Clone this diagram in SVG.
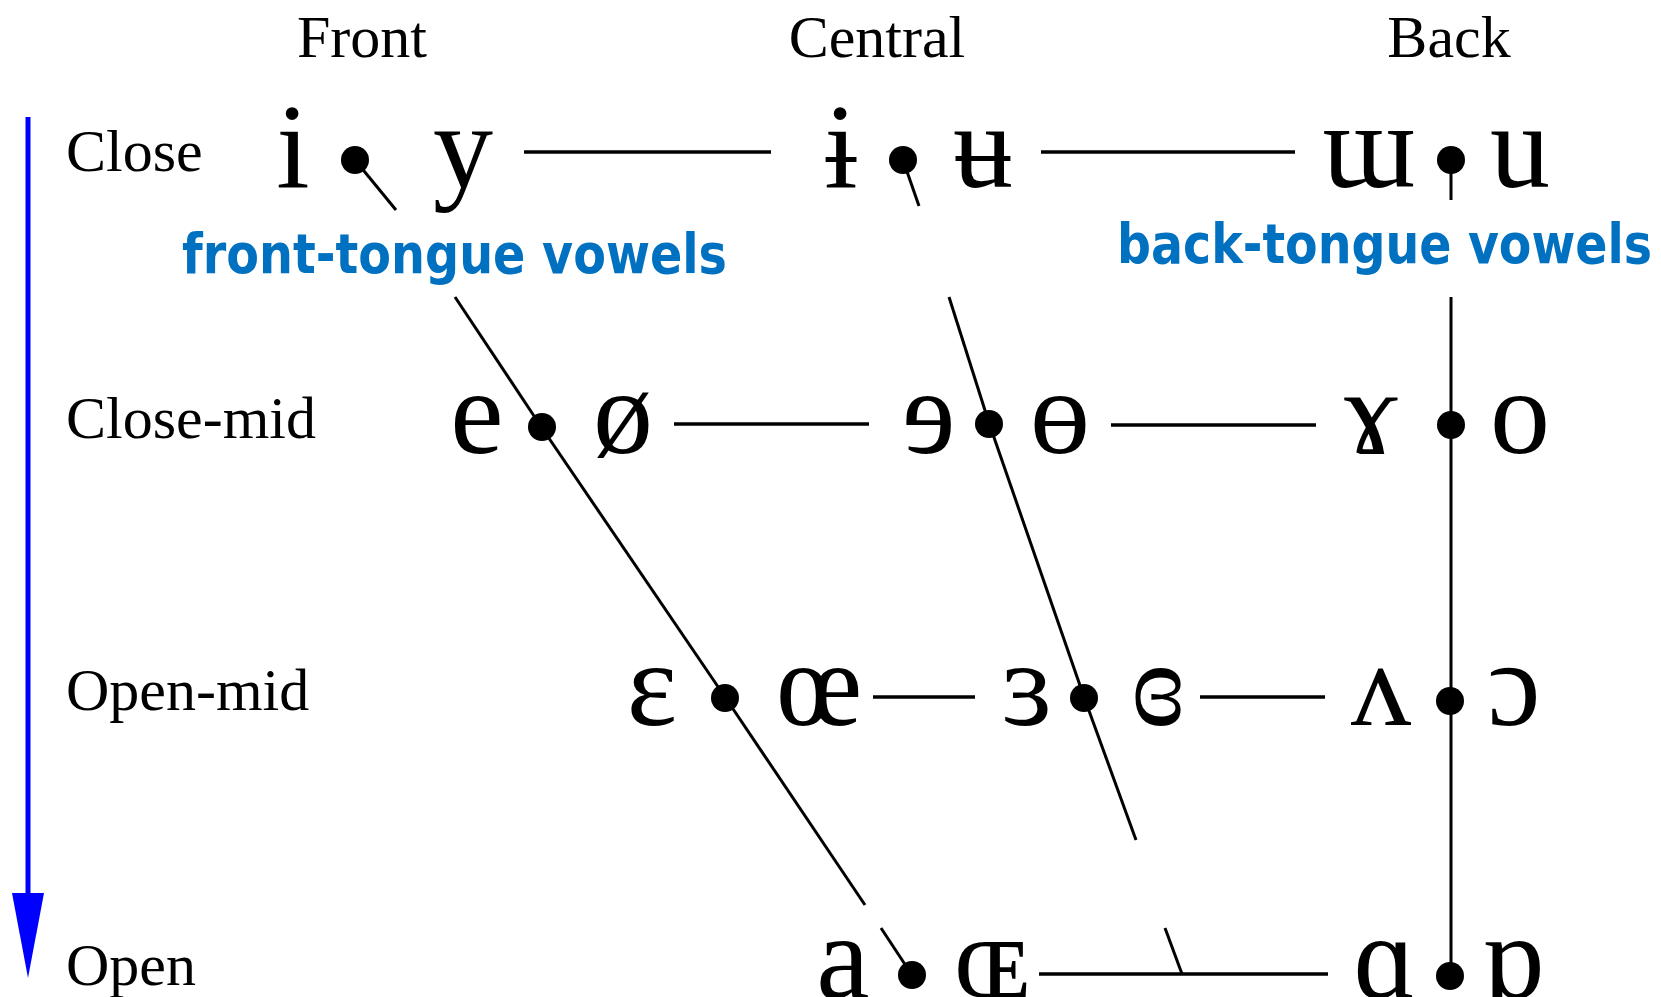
<svg xmlns="http://www.w3.org/2000/svg" width="1661" height="997" viewBox="0 0 1661 997">
<style>
.hdr{font-family:"Liberation Serif","Times New Roman",serif;font-size:60px;fill:#000}
.ipa{font-family:"Liberation Serif","DejaVu Serif",serif;font-size:120px;fill:#000;text-anchor:middle}
.blue{font-family:Tahoma,"DejaVu Sans",sans-serif;font-weight:bold;font-size:56px;fill:#0070C0}
.ln{stroke:#000;stroke-width:3;fill:none;stroke-linecap:butt}
.hl{stroke:#000;stroke-width:3.5;fill:none;stroke-linecap:butt}
.dot{fill:#000}
</style>
<rect width="1661" height="997" fill="#fff"/>
<g id="axis-labels">
<text class="hdr" x="362" y="57" text-anchor="middle">Front</text>
<text class="hdr" x="877" y="57" text-anchor="middle">Central</text>
<text class="hdr" x="1449" y="57" text-anchor="middle">Back</text>
<text class="hdr" x="66" y="171">Close</text>
<text class="hdr" x="66" y="438">Close-mid</text>
<text class="hdr" x="66" y="710">Open-mid</text>
<text class="hdr" x="66" y="985">Open</text>
</g>
<g id="openness-arrow">
<line x1="28" y1="117" x2="28" y2="896" stroke="#0000FF" stroke-width="5"/>
<polygon points="12,893 44,893 28,978" fill="#0000FF"/>
</g>
<g id="connectors">
<line class="hl" x1="524" y1="152" x2="771" y2="152"/>
<line class="hl" x1="1041" y1="152" x2="1295" y2="152"/>
<line class="hl" x1="674" y1="424" x2="869" y2="424"/>
<line class="hl" x1="1111" y1="425" x2="1316" y2="425"/>
<line class="hl" x1="873" y1="697" x2="975" y2="697"/>
<line class="hl" x1="1200" y1="697" x2="1325" y2="697"/>
<line class="hl" x1="1039" y1="974" x2="1328" y2="974"/>
<line class="ln" x1="355" y1="160" x2="396" y2="210"/>
<line class="ln" x1="455" y1="297" x2="542" y2="428"/>
<line class="ln" x1="542" y1="428" x2="725" y2="697"/>
<line class="ln" x1="725" y1="697" x2="865" y2="905"/>
<line class="ln" x1="881" y1="928" x2="912" y2="975"/>
<line class="ln" x1="903" y1="160" x2="919" y2="206"/>
<line class="ln" x1="949" y1="297" x2="989" y2="423"/>
<line class="ln" x1="989" y1="423" x2="1084" y2="697"/>
<line class="ln" x1="1084" y1="697" x2="1136" y2="840"/>
<line class="ln" x1="1165" y1="928" x2="1182" y2="974"/>
<line class="ln" x1="1451" y1="160" x2="1451" y2="200"/>
<line class="ln" x1="1451" y1="297" x2="1451" y2="976"/>
</g>
<g id="dots">
<circle class="dot" cx="355" cy="160" r="14"/>
<circle class="dot" cx="903" cy="160" r="14"/>
<circle class="dot" cx="1451" cy="160" r="14"/>
<circle class="dot" cx="542" cy="427" r="14"/>
<circle class="dot" cx="989" cy="424" r="14"/>
<circle class="dot" cx="1451" cy="425" r="14"/>
<circle class="dot" cx="725" cy="698" r="14"/>
<circle class="dot" cx="1084" cy="698" r="14"/>
<circle class="dot" cx="1450" cy="701" r="14"/>
<circle class="dot" cx="912" cy="975" r="14"/>
<circle class="dot" cx="1450" cy="976" r="14"/>
</g>
<g id="v-i"><text class="ipa" x="293" y="187">i</text></g>
<g id="v-y"><text class="ipa" x="463" y="187">y</text></g>
<g id="v-barred-i"><text class="ipa" x="841" y="187">ɨ</text></g>
<g id="v-barred-u"><text class="ipa" x="983" y="187">ʉ</text></g>
<g id="v-turned-m"><text class="ipa" x="1369" y="187">ɯ</text></g>
<g id="v-u"><text class="ipa" x="1520" y="187">u</text></g>
<g id="v-e"><text class="ipa" x="477" y="453">e</text></g>
<g id="v-o-slash"><text class="ipa" x="623" y="453">ø</text></g>
<g id="v-reversed-e"><text class="ipa" x="929" y="453">ɘ</text></g>
<g id="v-barred-o"><text class="ipa" x="1060" y="453">ɵ</text></g>
<g id="v-rams-horn"><text class="ipa" x="1371" y="453">ɤ</text></g>
<g id="v-o"><text class="ipa" x="1520" y="453">o</text></g>
<g id="v-open-e"><text class="ipa" x="652" y="725">ɛ</text></g>
<g id="v-oe"><text class="ipa" x="819" y="725">œ</text></g>
<g id="v-rev-open-e"><text class="ipa" x="1027" y="725">ɜ</text></g>
<g id="v-closed-rev-open-e"><text class="ipa" x="1158" y="725">ɞ</text></g>
<g id="v-turned-v"><text class="ipa" x="1381" y="725">ʌ</text></g>
<g id="v-open-o"><text class="ipa" x="1514" y="725">ɔ</text></g>
<g id="v-a"><text class="ipa" x="843" y="998">a</text></g>
<g id="v-small-cap-oe"><text class="ipa" x="992" y="998">ɶ</text></g>
<g id="v-script-a"><text class="ipa" x="1385" y="998">ɑ</text></g>
<g id="v-turned-script-a"><text class="ipa" x="1513" y="998">ɒ</text></g>
<g id="label-front"><text class="blue" x="182" y="273" textLength="545" lengthAdjust="spacingAndGlyphs">front-tongue vowels</text></g>
<g id="label-back"><text class="blue" x="1117" y="263" textLength="535" lengthAdjust="spacingAndGlyphs">back-tongue vowels</text></g>
</svg>
